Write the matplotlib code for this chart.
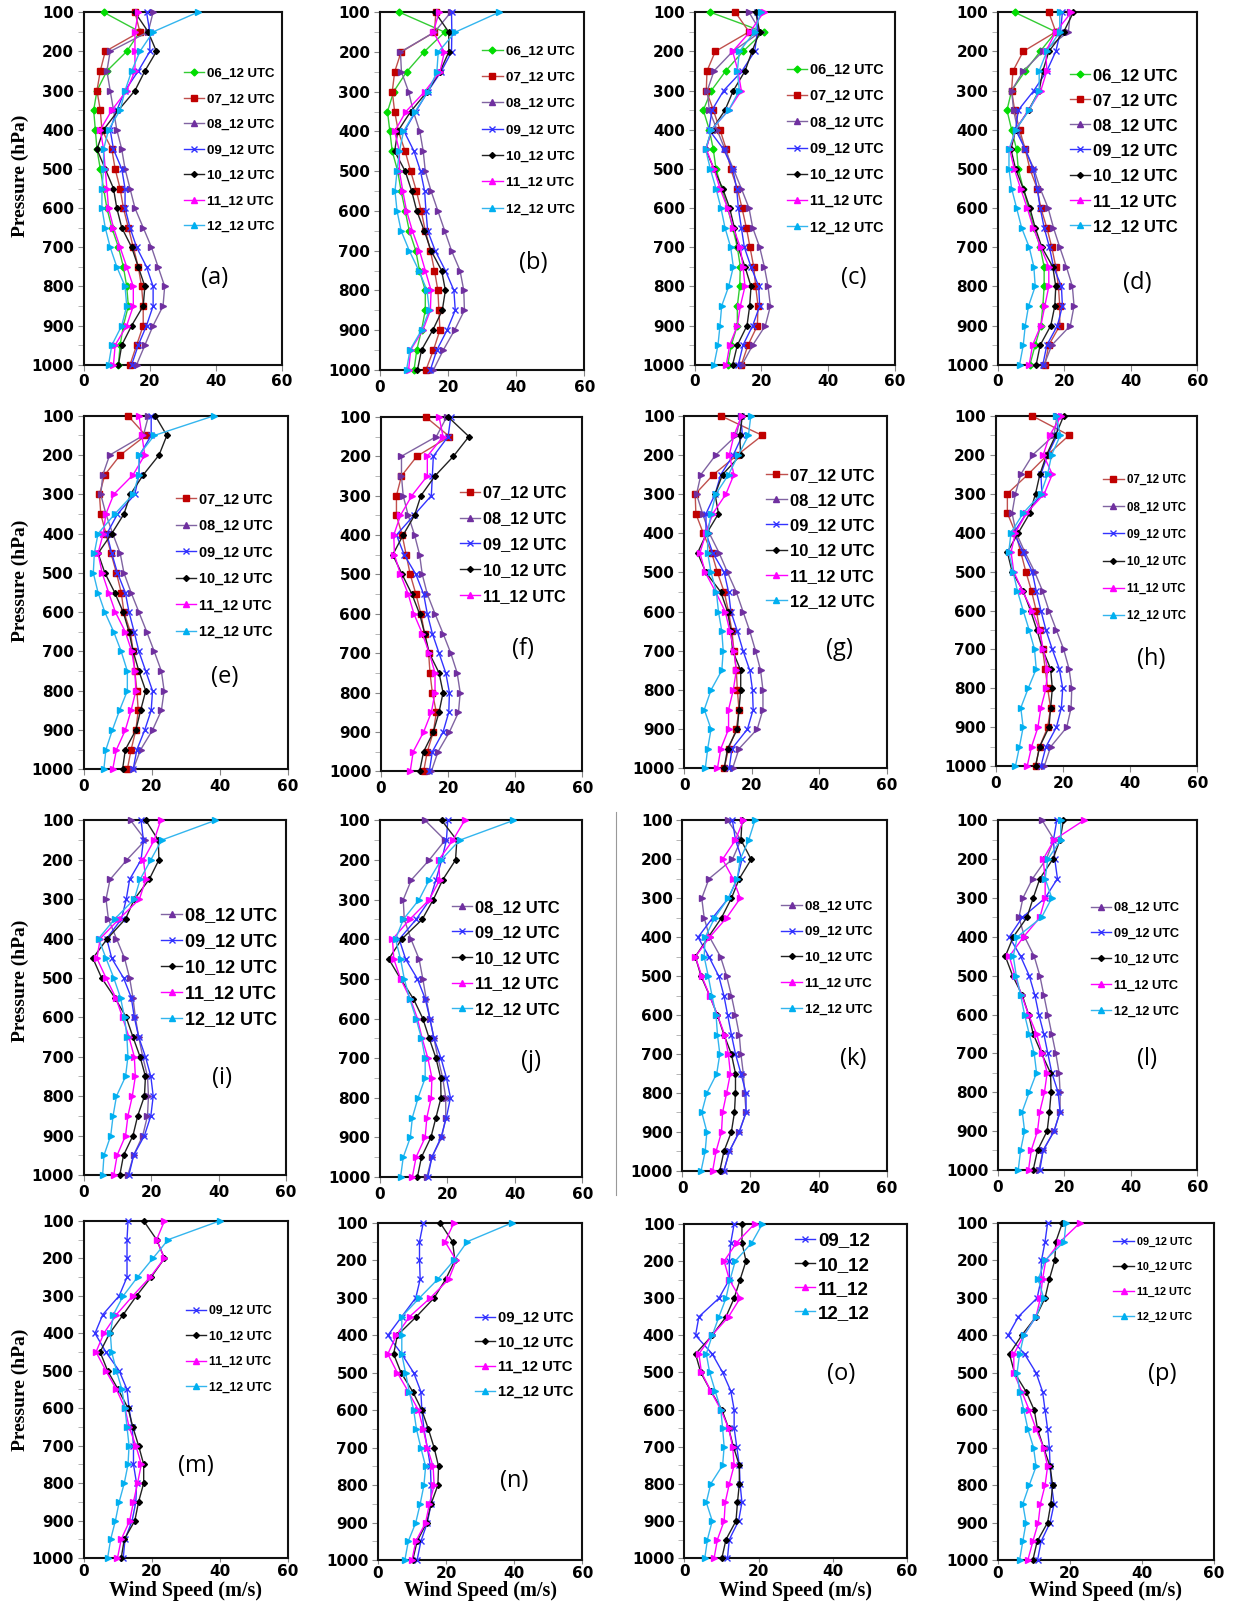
import matplotlib
matplotlib.use("Agg")
import matplotlib.pyplot as plt
from matplotlib.lines import Line2D

# pressure levels (hPa)
levels = list(range(100, 1001, 50))

# wind speed profiles (m/s), one dict per panel, keyed by start day
a = {
    '06': [6, 17, 13, 7, 4, 3, 3.5, 4, 5, 6, 7, 8.5, 10.5, 12, 13, 13.5, 12, 11, 10.5],
    '07': [15.5, 17, 6.5, 5, 4, 5, 5.5, 8.5, 9.5, 11, 12, 13.5, 15, 16.5, 17.5, 18, 18, 16, 14],
    '08': [21, 19.5, 8, 7, 8, 9, 10, 11.5, 12.5, 14, 15.5, 18, 20.5, 22.5, 24.5, 24, 21, 18.5, 16],
    '09': [19, 20, 20, 16.5, 12.5, 10, 8, 9, 11.5, 12.5, 12.5, 14, 16, 19, 21, 21, 19, 16.5, 14.5],
    '10': [15.5, 19.5, 22, 18.5, 15.5, 10.5, 6, 4, 6.5, 9, 10, 11.5, 14.5, 16.5, 18.5, 18, 14.5, 11.5, 10.5],
    '11': [16.5, 15.5, 15.5, 15.5, 13, 8.5, 5, 6, 6.5, 7, 7.5, 9, 11, 13, 15, 15, 13, 9.5, 9],
    '12': [34.5, 21, 17, 14.5, 12.5, 11, 7.5, 6, 6, 5.5, 5.5, 6.5, 8, 10, 12.5, 13, 11.5, 8.5, 7.5],
}
b = {
    '06': [5.7, 19, 12.9, 7.8, 4, 2.2, 2.9, 3.6, 5.2, 6.2, 7.4, 8.6, 10.5, 11.6, 13.3, 13.3, 12.2, 10.8, 10],
    '07': [16.4, 16, 6.2, 4.3, 3.6, 4.3, 5.4, 7.4, 9, 10.7, 12.1, 13.3, 14.8, 16, 17, 17.3, 17.6, 15.7, 13.5],
    '08': [20.8, 16, 6, 6.3, 8.4, 9.8, 11.7, 12.7, 13.3, 15, 17, 19, 21, 23.5, 24.6, 24.8, 21.9, 18.6, 15.7],
    '09': [21, 21.1, 21, 17.9, 14, 10.5, 7.1, 10, 11.9, 13.1, 13.5, 14, 16.2, 19.2, 21.7, 22.1, 19.7, 16.7, 14.8],
    '10': [16.2, 20.2, 20.2, 17.6, 13.8, 9, 5.2, 4.3, 7.4, 9.3, 10.8, 13, 15, 18.1, 19.2, 18.3, 15.5, 12.2, 11],
    '11': [17.3, 15.7, 18.9, 17.6, 13.1, 7.6, 4.3, 5.7, 5.7, 6.7, 7.8, 9.5, 11.6, 13.3, 15, 14.8, 12.6, 9, 8.4],
    '12': [35, 22.1, 17.1, 16.7, 14.1, 10.3, 6.9, 5.7, 5, 4.4, 5, 6.2, 8.6, 11.4, 13.8, 14.5, 12.2, 8.8, 7.8],
}
c = {
    '06': [4.7, 20.7, 14.5, 9.3, 5, 2.6, 4.4, 5.6, 6.4, 8.1, 9.9, 11.4, 12.8, 13.7, 13.5, 12.8, 12.8, 11, 9.9],
    '07': [12.2, 16.3, 6.2, 3.7, 3.5, 5.6, 7.6, 9.5, 10.8, 12.8, 14.2, 15.5, 16.6, 17.7, 18.3, 19, 18.8, 16, 14],
    '08': [16.3, 19.8, 11.4, 5.8, 3.8, 4.4, 6.7, 9.1, 11.6, 14, 16.3, 17.4, 19.5, 20.9, 22, 22.7, 21.2, 17.4, 14.2],
    '09': [18.8, 18.8, 18, 14.2, 8.7, 5.2, 4.3, 8.7, 11.4, 12.6, 13.1, 14, 14.9, 16.9, 19.2, 19.5, 17.4, 14.5, 13.1],
    '10': [18.3, 19.5, 17.2, 15.1, 11.6, 9.1, 5.2, 3.3, 5.8, 8.4, 10.5, 11.9, 13, 15.1, 16.9, 16.5, 15.7, 12.8, 11.4],
    '11': [20.7, 16.6, 11.4, 13, 14, 10.2, 5, 3.5, 5.8, 7.6, 9.9, 11.6, 13.7, 14.5, 15.1, 13.7, 12.8, 10.5, 9.5],
    '12': [19.8, 18, 13.4, 12.8, 13.4, 10.2, 5, 3.3, 4.7, 6.4, 7.9, 9.1, 10.8, 11.6, 10.2, 8.1, 7.6, 7, 5.8],
}
d = {
    '06': [5, 17.4, 12.7, 8.2, 4.1, 2.7, 4.1, 5.6, 6.1, 7.6, 9.2, 10.8, 12.7, 13.9, 13.9, 13.5, 12.9, 11.2, 9.6],
    '07': [15.3, 17.4, 7.6, 4.5, 4.1, 5, 6.5, 8.2, 9.6, 11.8, 12.9, 14.7, 16.2, 17.4, 18.2, 18.6, 18.6, 15.3, 14.1],
    '08': [21.8, 21.2, 13.5, 7.6, 4.1, 4.7, 5.9, 8.2, 10.8, 12.7, 15.1, 16.7, 18.6, 20.6, 22.4, 22.9, 21.8, 16.2, 13.9],
    '09': [19.4, 18.8, 17.4, 14.7, 10.8, 6.1, 5.3, 8.2, 10.6, 11.8, 12.7, 13.9, 15.5, 16.7, 19.1, 19.4, 17.9, 14.7, 13.5],
    '10': [22.7, 19.8, 15.3, 13.5, 12.4, 9.2, 5.3, 3.9, 5.3, 7.6, 9.6, 11.2, 13.2, 16.5, 17.4, 17.1, 15.9, 12.7, 11.5],
    '11': [22.1, 17.4, 14.4, 14.7, 12.9, 9.2, 5.3, 3.5, 4.9, 6.8, 8.8, 10.6, 12.9, 15.3, 15.3, 14.1, 12.9, 10.4, 9.4],
    '12': [18.6, 18.6, 14.7, 12.4, 12.4, 9.4, 5.3, 3.3, 3.3, 4.1, 5.6, 7.1, 9.4, 10.8, 11.2, 9.2, 8.2, 7.6, 6.5],
}
e = {
    '07': [13, 18.2, 10.7, 6.2, 4.6, 5, 6.5, 8, 9.6, 11, 11.8, 13.7, 14.5, 15, 15.6, 16, 15.3, 13.9, 12.8],
    '08': [19, 17.5, 7.6, 5.6, 5, 6.5, 8.5, 10.7, 11.8, 13.9, 16.2, 18.5, 20.7, 22.8, 23.6, 22.8, 20.2, 16.7, 14.5],
    '09': [19.8, 19.8, 16.4, 16.2, 15, 9.9, 6.8, 8.2, 9.9, 12.2, 13.3, 14.8, 16.2, 18.2, 20.2, 19.8, 17.9, 15.6, 14.5],
    '10': [21, 24.4, 22.1, 17.5, 13.7, 11.8, 8.2, 4.2, 6.2, 9.1, 11.6, 13.3, 14.5, 16.2, 18.2, 16.7, 15.3, 12.2, 11.4],
    '11': [16.2, 17.1, 17.9, 14.5, 8.8, 6.5, 5.7, 4.2, 5.4, 7.3, 9.3, 12.2, 14.1, 15, 15.3, 13.9, 12.2, 9.6, 8.5],
    '12': [38.2, 20.7, 16.2, 16.2, 14.5, 9.1, 4.2, 3.1, 2.8, 4.2, 6.2, 8.8, 11, 12.8, 12.8, 10.5, 8.4, 6.5, 5.9],
}
f = {
    '07': [13.3, 20.4, 10.7, 6.1, 4.6, 4.6, 6.3, 7.5, 8.7, 10.4, 11.9, 13, 14.2, 14.6, 15.3, 16.5, 15.6, 13.8, 12.7],
    '08': [19.6, 16.5, 6.1, 6.1, 6.6, 8.1, 10, 11.5, 12.3, 13.8, 16.1, 18.5, 20.8, 22.7, 23.6, 23.1, 20.4, 17, 15],
    '09': [20.8, 20, 15.6, 15.3, 15, 9.8, 4.6, 6.9, 10.4, 12.7, 13.8, 15.3, 17.3, 19.3, 20.4, 20.2, 18.5, 15.3, 14.4],
    '10': [20, 26.2, 21.6, 16.1, 11.9, 10, 6.6, 3.5, 6.3, 9.2, 11.5, 13, 14.4, 17.3, 18.5, 17.3, 15.6, 12.7, 11.5],
    '11': [17.3, 18.5, 13.8, 13.8, 9.2, 5.8, 3.8, 4, 5.8, 8.1, 9.8, 12.3, 14.4, 16.1, 16.1, 15, 12.7, 9.6, 8.7],
}
g = {
    '07': [10.8, 23.1, 15.7, 8.6, 3.2, 3.4, 5.6, 8.1, 9.8, 11.8, 13.1, 14.1, 14.7, 15.4, 15.7, 16.2, 15.4, 13.1, 11.8],
    '08': [16.7, 15.4, 9.3, 4.9, 3.6, 5.4, 7.4, 10.3, 12.8, 15.4, 17.4, 19.4, 21.1, 22.6, 23.3, 23.3, 21.6, 16.2, 14.3],
    '09': [16.7, 17.2, 14.5, 10.8, 9.1, 6.4, 6.4, 8.4, 11.8, 13.1, 13.8, 15.7, 17.4, 19.4, 20.2, 20.4, 18.7, 14.1, 13.3],
    '10': [17.2, 16.4, 16.7, 11.3, 9.1, 10.1, 6.6, 3.9, 6.4, 10.8, 12.8, 13.8, 14.3, 16.7, 16.7, 16.2, 15.7, 12.8, 11.8],
    '11': [17, 14.7, 13.3, 14.7, 12.3, 8.4, 6.4, 4.6, 6.2, 9.3, 12.1, 13.5, 14.7, 15.4, 14.5, 13.1, 13.1, 10.8, 9.8],
    '12': [19.7, 19, 16, 13.1, 9.3, 7.9, 6.9, 6.9, 7.9, 9.5, 10.1, 11.1, 11.5, 11.1, 7.9, 5.9, 7.9, 6.9, 6.2],
}
h = {
    '07': [10.8, 21.8, 15.4, 9.6, 3.4, 3.4, 5.8, 7.4, 8.9, 10.6, 12, 13.1, 13.9, 14.7, 15.4, 16.3, 15.4, 13, 11.8],
    '08': [18.2, 17.3, 11, 7.4, 5.8, 4.8, 6, 8.6, 11.5, 13.9, 15.8, 18, 20.2, 21.8, 22.6, 22.4, 21.1, 16.3, 14.4],
    '09': [18.5, 18.2, 15.4, 13.4, 13.7, 9.1, 5.3, 8.1, 10.8, 12, 13.4, 14.9, 16.8, 18.9, 19.9, 19.5, 18, 14.9, 13.4],
    '10': [20.2, 17.8, 15.1, 13.1, 11.8, 10.1, 6.7, 3.4, 4.8, 8.1, 10.3, 12.2, 13.9, 16.3, 16.8, 16.3, 15.8, 13, 11.8],
    '11': [19.5, 16, 14.1, 16.8, 14.4, 9.1, 5.8, 4.5, 5.3, 7.9, 10.8, 13, 14.1, 15.4, 14.9, 13.4, 12.5, 10.6, 9.3],
    '12': [17.9, 19.2, 16.6, 15.4, 13.4, 8.1, 4.5, 3.8, 5.1, 6.4, 8.1, 9.9, 11.5, 12, 9.6, 7.4, 8.1, 7, 5.8],
}
i = {
    '08': [13.9, 18.3, 12.8, 7.8, 6.6, 7.3, 9.7, 12.1, 13.6, 14.6, 15.3, 16.3, 17.5, 18.9, 19.2, 18.9, 17.5, 14.8, 13.1],
    '09': [17, 17.7, 17, 13.6, 12.6, 11.2, 6.8, 8.3, 11.8, 14.1, 15, 16.3, 18.3, 19.9, 20.6, 19.9, 18, 14.8, 13.4],
    '10': [18.4, 22.1, 22.3, 19.4, 15, 12.4, 7, 2.7, 5.3, 9.2, 12.6, 14.6, 16.7, 18.3, 18, 16, 14.6, 11.8, 10.7],
    '11': [22.8, 20.9, 17.7, 18.4, 16.5, 10.5, 4.9, 3.9, 6.6, 9.5, 11.5, 13.4, 15, 15.3, 14.4, 13.1, 12.4, 9.9, 8.9],
    '12': [39, 23.1, 19.9, 16.7, 15, 9.2, 4.4, 6.6, 8.9, 10.9, 12.1, 12.8, 13.1, 12.4, 9.7, 8.7, 8, 6, 5.6],
}
j = {
    '08': [13.4, 19.3, 14.6, 9.3, 6.9, 7.2, 9.2, 11.6, 12.7, 13.7, 14.8, 16, 17.2, 18.6, 19.5, 19.5, 18.3, 15.4, 13.9],
    '09': [20.1, 19.7, 18.3, 16.6, 14.8, 10.7, 5.7, 7.6, 11.1, 13.4, 14.8, 16, 18.1, 19.7, 20.9, 19.7, 18.1, 15.4, 14.2],
    '10': [18.3, 22.8, 22.4, 18.6, 15.8, 12.5, 6.4, 2.6, 6.1, 9.9, 12.7, 14.6, 16.6, 18, 18.1, 16.6, 15.1, 12.3, 11.1],
    '11': [25.1, 21.6, 17.4, 17.7, 14.6, 8.8, 3.7, 4.1, 6.1, 9, 11.1, 12.5, 14.2, 15.4, 15.2, 13.9, 13.4, 10.7, 9.6],
    '12': [39.6, 23.6, 18.1, 14.6, 11.6, 6.9, 4.6, 6.1, 7.2, 8.8, 10.7, 12.3, 13.4, 13.4, 11.3, 9.6, 9, 6.9, 6.1],
}
k = {
    '08': [13.3, 17.2, 14.7, 7.8, 5.7, 6.4, 8, 11.2, 13, 14.4, 15.6, 16.7, 17.2, 17.9, 18.3, 18.7, 16.7, 13.8, 12.2],
    '09': [14.7, 15.6, 17.5, 16.1, 13.5, 8.9, 4.6, 7.8, 10.7, 12.2, 13.3, 14.4, 15.6, 17.2, 18.7, 18.7, 16.7, 13.8, 12.2],
    '10': [17.5, 17.2, 20.2, 16.7, 14.4, 11.5, 7.6, 3.8, 5.5, 8, 10.3, 12.2, 14.4, 15.6, 15.6, 15.3, 14.4, 12.2, 11],
    '11': [17.9, 15.6, 11.8, 14.9, 17, 13, 8, 3.8, 5.7, 8, 10.3, 12.4, 13.5, 14.1, 13, 11.8, 11.5, 9.9, 8.9],
    '12': [21.3, 19.5, 17, 16.1, 13.5, 9.5, 6.7, 6.4, 7.6, 8.7, 9.9, 10.3, 11, 10.1, 7.2, 5.7, 7.2, 6.7, 5.5],
}
l = {
    '08': [13.3, 16.9, 14.5, 10.4, 7.5, 6.3, 8, 10.9, 12.6, 13.8, 15, 16.2, 17.4, 18.4, 18.7, 18.7, 16.9, 13.6, 12.3],
    '09': [17.7, 16.7, 17.1, 17.9, 14.2, 7.3, 3.4, 6.8, 9.4, 11.1, 12.3, 13.8, 15, 16.2, 18.1, 18.7, 16.9, 13.6, 12.6],
    '10': [19.7, 18.7, 16.5, 12.6, 10.6, 8.7, 4.6, 2.2, 4.4, 7.3, 9.2, 10.6, 13.1, 15.8, 16, 15.5, 14.8, 11.9, 10.6],
    '11': [25.8, 16.9, 13.6, 14.2, 14.2, 12.6, 7.7, 3.4, 5.1, 7.1, 9.2, 11.6, 13.3, 14.8, 14, 12.6, 11.9, 10, 9.2],
    '12': [18.9, 18.9, 15, 14.2, 16.2, 13.1, 5.8, 4.6, 5.5, 6.8, 8, 9.4, 10.9, 11.6, 9.4, 7.3, 8, 6.8, 6.1],
}
m = {
    '09': [13, 12.7, 12.7, 12.7, 10.4, 5.6, 3.3, 6.5, 10.4, 12.7, 13.3, 14.2, 14.6, 14.6, 15.5, 15.3, 14.2, 12.1, 11.6],
    '10': [17.6, 21.4, 23.7, 19.8, 15.5, 11.6, 7.6, 4.8, 7, 10.1, 13, 14.4, 16.1, 17.6, 17.6, 16.1, 15, 11.9, 11],
    '11': [23.7, 21.4, 23.7, 19.5, 14.4, 9.6, 5.9, 3.6, 6.5, 9.6, 12.1, 13.3, 15.3, 16.9, 15.8, 14.6, 13.5, 11, 9.9],
    '12': [39.9, 24.8, 20.3, 15.8, 11.6, 8.7, 7.8, 8.2, 9.6, 11.2, 12.1, 12.7, 13.3, 13, 11.9, 10.4, 9.3, 7.9, 7],
}
n = {
    '09': [13.3, 12.2, 12.2, 12.4, 11.1, 7, 2.9, 7, 10.5, 12.6, 12.9, 13.5, 14.5, 15.4, 15.6, 15.6, 14.5, 12.6, 11.5],
    '10': [18.3, 21.9, 22.6, 19.9, 16.5, 11.3, 5.7, 4.6, 6.8, 10.2, 12.9, 14.8, 16.5, 17.8, 17.6, 15.6, 14.3, 11.5, 10.2],
    '11': [22.3, 19.7, 23, 20.8, 15.4, 9.3, 5.4, 2.9, 5.7, 8.9, 11.9, 13.3, 14.5, 16.2, 16.5, 15.1, 14, 11.1, 10],
    '12': [39.3, 26.2, 22.3, 17.6, 12.2, 7, 7, 7, 8.1, 9.2, 10.5, 11.3, 12.6, 14, 13.5, 12.4, 11.1, 8.9, 7.9],
}
o = {
    '09': [13.4, 12.5, 12.1, 12.1, 9.3, 3.9, 3, 7.5, 10.3, 12.5, 13.4, 13.4, 14.1, 14.8, 15, 15.5, 14.6, 12.1, 11.6],
    '10': [15.5, 15.5, 16.6, 15, 13.4, 11.2, 7.5, 3, 4.4, 7.1, 10.1, 11.9, 13.2, 14.8, 14.8, 14.3, 13.9, 11.2, 10.1],
    '11': [18.9, 14.1, 10.7, 12.1, 15, 11.9, 7.4, 3.9, 4.6, 7.1, 9.8, 11.9, 13, 13.4, 12.1, 11, 10.7, 8.9, 8],
    '12': [21, 18.2, 13.7, 12.3, 11.2, 9.3, 7.5, 5.9, 6.8, 8.3, 9.8, 10.3, 10.7, 10.3, 7.1, 5.9, 7.5, 6.2, 5.5],
}
p = {
    '09': [13.8, 13.1, 12.1, 12, 10.9, 5.7, 2.8, 7.4, 10.6, 12.4, 13.1, 13.8, 14.3, 14.5, 14.9, 15.6, 14.5, 12, 11],
    '10': [17.9, 16.1, 15.8, 14.3, 13.1, 10.6, 6.6, 3.2, 4.6, 7.8, 10.1, 11, 12.7, 14.5, 15.2, 14.7, 13.8, 10.9, 9.7],
    '11': [22.8, 17.3, 13.3, 12.4, 11.8, 10.6, 7.2, 4.4, 4.4, 6.6, 8.7, 10.6, 12.7, 13.8, 13.1, 11.8, 11.2, 9.7, 8.3],
    '12': [18.9, 18.4, 13.1, 11.2, 12.7, 10.6, 7.2, 6, 5.3, 6, 7.2, 8.3, 9.9, 10.6, 8.7, 6.9, 7.8, 6.9, 6],
}

panels = {'a': a, 'b': b, 'c': c, 'd': d, 'e': e, 'f': f, 'g': g, 'h': h,
          'i': i, 'j': j, 'k': k, 'l': l, 'm': m, 'n': n, 'o': o, 'p': p}

# line / marker style per series
styles = {
    '06': dict(color='#33cc33', mfc='#00dd00', mec='#00dd00', marker='D', ms=3.5, lm='D'),
    '07': dict(color='#c0504d', mfc='#c00000', mec='#c00000', marker='s', ms=5, lm='s'),
    '08': dict(color='#8064a2', mfc='#7030a0', mec='#7030a0', marker='>', ms=5, lm='^'),
    '09': dict(color='#3333ff', mfc='#3333ff', mec='#3333ff', marker='x', ms=5, lm='x'),
    '10': dict(color='#222222', mfc='black', mec='black', marker='D', ms=3, lm='D'),
    '11': dict(color='#ff00ff', mfc='#ff00ff', mec='#ff00ff', marker='>', ms=5, lm='^'),
    '12': dict(color='#33b5ee', mfc='#00b0f0', mec='#00b0f0', marker='>', ms=5, lm='^'),
}

# layout, in pixels of a 1209x1568 canvas: axes box (l, t, r, b)
W, H = 1209.0, 1568.0
boxes = {
    'a': (82, 12, 276, 357), 'b': (372, 12, 572, 362), 'c': (680, 12, 876, 357), 'd': (977, 12, 1172, 357),
    'e': (82, 407, 282, 753), 'f': (373, 408, 570, 755), 'g': (670, 407, 868, 752), 'h': (975, 407, 1172, 750),
    'i': (82, 803, 280, 1150), 'j': (372, 803, 570, 1152), 'k': (668, 803, 868, 1146), 'l': (977, 803, 1172, 1145),
    'm': (82, 1195, 282, 1525), 'n': (370, 1197, 570, 1527), 'o': (670, 1198, 888, 1525), 'p': (977, 1197, 1188, 1527),
}
# legend: handle start x, first row y, last row y, font size
legends = {
    'a': (180, 72, 222, 9.5), 'b': (472, 50, 205, 9.7), 'c': (770, 70, 221, 10.4), 'd': (1047, 72, 223, 12),
    'e': (172, 490, 617, 10.4), 'f': (450, 482, 584, 11.8), 'g': (750, 464, 590, 12), 'h': (1080, 473, 600, 8.3),
    'i': (158, 897, 998, 13), 'j': (442, 887, 989, 12), 'k': (765, 887, 988, 9.5), 'l': (1068, 889, 990, 9.2),
    'm': (182, 1284, 1357, 8.8), 'n': (465, 1290, 1362, 10.7), 'o': (778, 1214, 1286, 13.5), 'p': (1090, 1216, 1289, 7.8),
}
tags = {
    'a': (210, 272), 'b': (522, 257), 'c': (836, 272), 'd': (1113, 277),
    'e': (220, 663), 'f': (512, 635), 'g': (822, 635), 'h': (1127, 645),
    'i': (217, 1055), 'j': (520, 1038), 'k': (835, 1037), 'l': (1123, 1037),
    'm': (192, 1435), 'n': (503, 1450), 'o': (823, 1345), 'p': (1138, 1345),
}

fig = plt.figure(figsize=(12.35, 16.02), dpi=100)
px = 1235 / W / 1.389  # shrunk px -> points

for key, data in panels.items():
    l0, t0, r0, b0 = boxes[key]
    ax = fig.add_axes([l0 / W, 1 - b0 / H, (r0 - l0) / W, (b0 - t0) / H])
    for day, vals in data.items():
        st = styles[day]
        ax.plot(vals, levels, color=st['color'], lw=1.0, marker=st['marker'], ms=st['ms'],
                mfc=st['mfc'], mec=st['mec'], mew=1.0, clip_on=False, zorder=3)
    ax.set_xlim(0, 60)
    ax.set_ylim(1000, 100)
    ax.set_xticks([0, 20, 40, 60])
    ax.set_yticks(range(100, 1001, 100))
    ax.set_yticks(range(150, 1000, 100), minor=True)
    ax.tick_params(axis='both', which='major', labelsize=11, length=4, color='#888888', pad=3)
    ax.tick_params(axis='y', which='minor', length=4, color='#aaaaaa')
    if key in 'mnop':
        ax.tick_params(axis='x', length=3, pad=1)
    for t in ax.get_xticklabels() + ax.get_yticklabels():
        t.set_fontweight('bold')
    for s in ax.spines.values():
        s.set_linewidth(1.5)
        s.set_color('#111111')

    # legend
    hx, y1, y2, fs = legends[key]
    nrow = len(data)
    sp_pt = (y2 - y1) / (nrow - 1) * px
    lab_sp = max(0.1, (sp_pt - 0.93 * fs) / fs)
    suffix = '' if key == 'o' else ' UTC'
    handles = []
    for day in data:
        st = styles[day]
        handles.append(Line2D([0], [0], color=st['color'], lw=1.0, marker=st['lm'], ms=st['ms'],
                              mfc=st['mfc'], mec=st['mec']))
    labels = [day + '_12' + suffix for day in data]
    ax.legend(handles, labels, loc='center left', bbox_to_anchor=(hx / W, 1 - (y1 + y2) / 2 / H),
              bbox_transform=fig.transFigure, frameon=False, borderpad=0, borderaxespad=0,
              handlelength=20 * px / fs, handletextpad=3 * px / fs, labelspacing=lab_sp,
              prop={'family': 'Liberation Sans', 'weight': 'bold', 'size': fs})

    tx, ty = tags[key]
    fig.text(tx / W, 1 - ty / H, '(' + key + ')', fontsize=17, ha='center', va='center',
             family='Open Sans')

# axis titles
for yc in (172, 568, 960, 1360):
    fig.text(20 / W, 1 - yc / H, 'Pressure (hPa)', rotation=90, ha='center', va='center',
             family='Liberation Serif', weight='bold', fontsize=14)
for key in 'mnop':
    l0, t0, r0, b0 = boxes[key]
    fig.text((l0 + r0) / 2 / W, 1 - 1562 / H, 'Wind Speed (m/s)', ha='center', va='baseline',
             family='Liberation Serif', weight='bold', fontsize=14.5)

# thin separator between (j) and (k)
fig.add_artist(Line2D([603 / W, 603 / W], [1 - 795 / H, 1 - 1170 / H], color='#999999', lw=0.8))

fig.savefig('out.png', dpi=100, facecolor='white')
